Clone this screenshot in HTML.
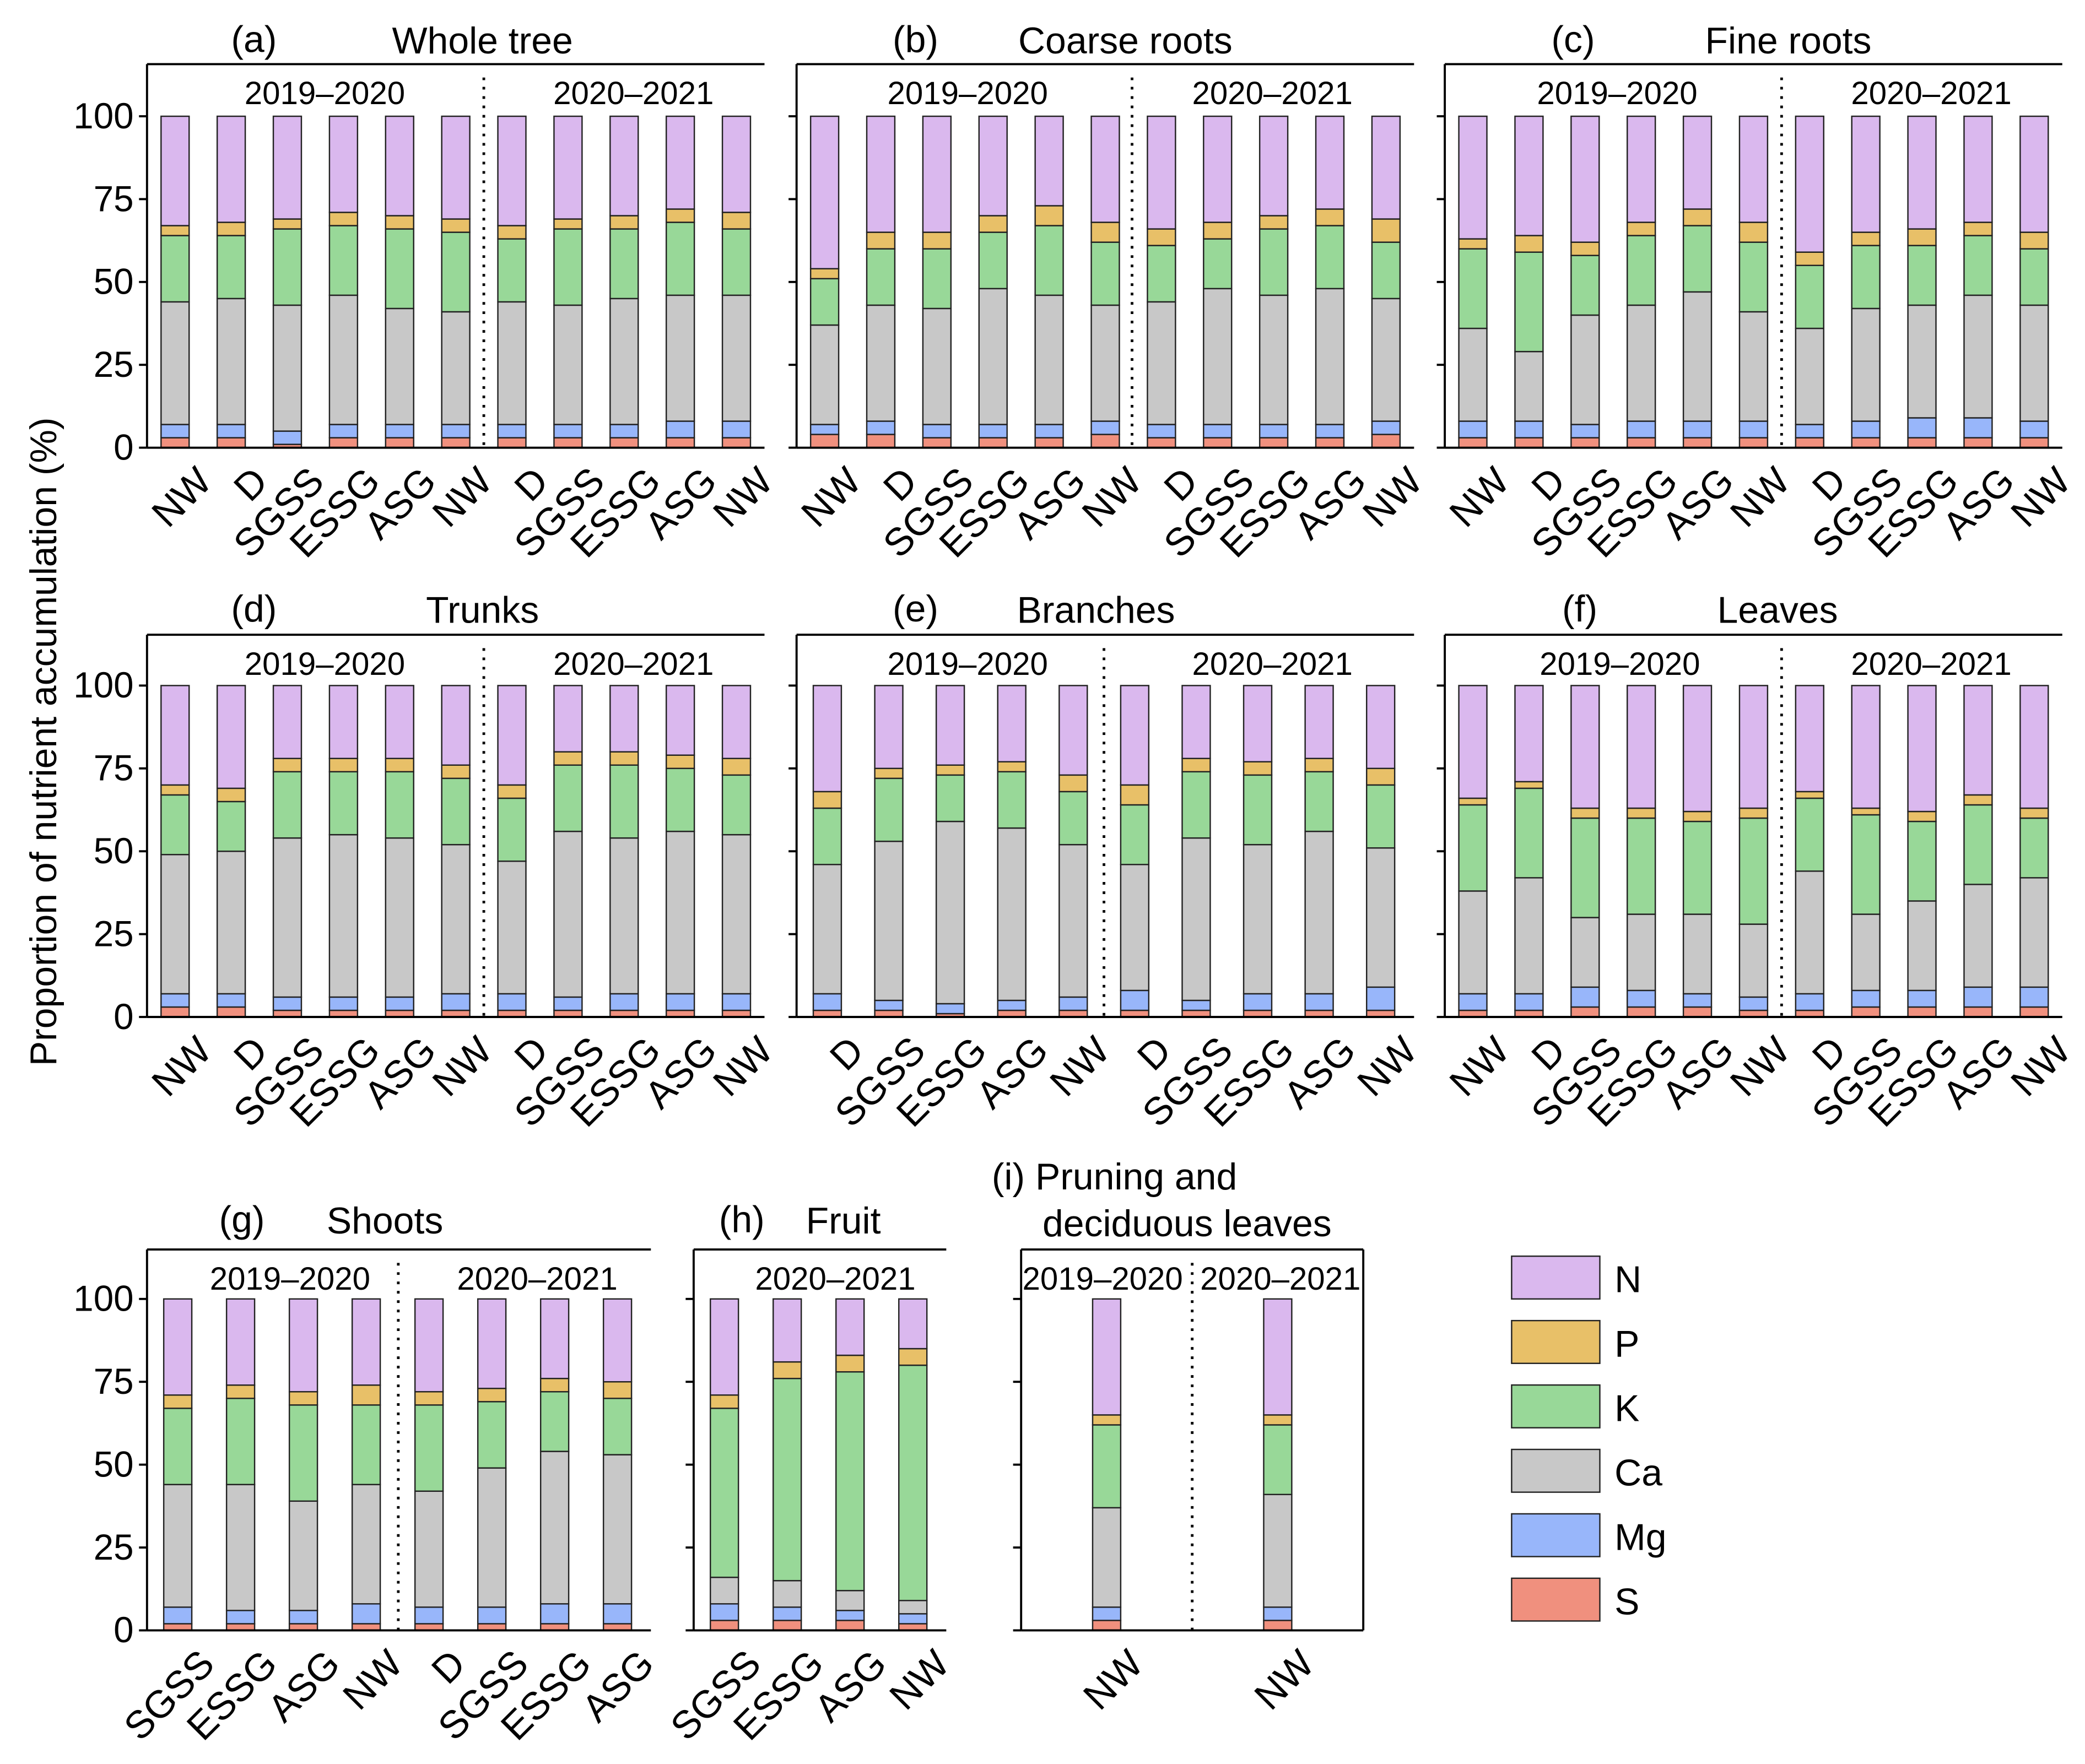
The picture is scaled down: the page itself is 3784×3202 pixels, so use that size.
<!DOCTYPE html>
<html><head><meta charset="utf-8"><style>
html,body{margin:0;padding:0;background:#fff;}
svg{display:block;font-family:"Liberation Sans",Arial,sans-serif;}
</style></head><body>
<svg id="chart" xmlns="http://www.w3.org/2000/svg" width="3784" height="3202" viewBox="0 0 1560 1320" preserveAspectRatio="none">
<rect x="0" y="0" width="1560" height="1320" fill="#fff"/>
<text transform="translate(42,555) rotate(-90)" text-anchor="middle" font-size="28">Proportion of nutrient accumulation (%)</text>
<g id="legend"></g>
</svg>
<script>
// ---- data (component shares, %; N = remainder to 100) ----
const catsA = ["NW","D","SGSS","ESSG","ASG","NW","D","SGSS","ESSG","ASG","NW"];
const sA  = [3,3,1,3,3,3,3,3,3,3,3];
const mgA = [4,4,4,4,4,4,4,4,4,5,5];
const caA = [37,38,38,39,35,34,37,36,38,38,38];
const kA  = [20,19,23,21,24,24,19,23,21,22,20];
const pA  = [3,4,3,4,4,4,4,3,4,4,5];

const catsB = ["NW","D","SGSS","ESSG","ASG","NW","D","SGSS","ESSG","ASG","NW"];
const sB  = [4,4,3,3,3,4,3,3,3,3,4];
const mgB = [3,4,4,4,4,4,4,4,4,4,4];
const caB = [30,35,35,41,39,35,37,41,39,41,37];
const kB  = [14,17,18,17,21,19,17,15,20,19,17];
const pB  = [3,5,5,5,6,6,5,5,4,5,7];

const catsC = ["NW","D","SGSS","ESSG","ASG","NW","D","SGSS","ESSG","ASG","NW"];
const sC  = [3,3,3,3,3,3,3,3,3,3,3];
const mgC = [5,5,4,5,5,5,4,5,6,6,5];
const caC = [28,21,33,35,39,33,29,34,34,37,35];
const kC  = [24,30,18,21,20,21,19,19,18,18,17];
const pC  = [3,5,4,4,5,6,4,4,5,4,5];

const catsD = ["NW","D","SGSS","ESSG","ASG","NW","D","SGSS","ESSG","ASG","NW"];
const sD  = [3,3,2,2,2,2,2,2,2,2,2];
const mgD = [4,4,4,4,4,5,5,4,5,5,5];
const caD = [42,43,48,49,48,45,40,50,47,49,48];
const kD  = [18,15,20,19,20,20,19,20,22,19,18];
const pD  = [3,4,4,4,4,4,4,4,4,4,5];

const catsE = ["D","SGSS","ESSG","ASG","NW","D","SGSS","ESSG","ASG","NW"];
const sE  = [2,2,1,2,2,2,2,2,2,2];
const mgE = [5,3,3,3,4,6,3,5,5,7];
const caE = [39,48,55,52,46,38,49,45,49,42];
const kE  = [17,19,14,17,16,18,20,21,18,19];
const pE  = [5,3,3,3,5,6,4,4,4,5];

const catsF = ["NW","D","SGSS","ESSG","ASG","NW","D","SGSS","ESSG","ASG","NW"];
const sF  = [2,2,3,3,3,2,2,3,3,3,3];
const mgF = [5,5,6,5,4,4,5,5,5,6,6];
const caF = [31,35,21,23,24,22,37,23,27,31,33];
const kF  = [26,27,30,29,28,32,22,30,24,24,18];
const pF  = [2,2,3,3,3,3,2,2,3,3,3];

const catsG = ["SGSS","ESSG","ASG","NW","D","SGSS","ESSG","ASG"];
const sG  = [2,2,2,2,2,2,2,2];
const mgG = [5,4,4,6,5,5,6,6];
const caG = [37,38,33,36,35,42,46,45];
const kG  = [23,26,29,24,26,20,18,17];
const pG  = [4,4,4,6,4,4,4,5];

const catsH = ["SGSS","ESSG","ASG","NW"];
const sH  = [3,3,3,2];
const mgH = [5,4,3,3];
const caH = [8,8,6,4];
const kH  = [51,61,66,71];
const pH  = [4,5,5,5];

const catsI = ["NW","NW"];
const sI  = [3,3];
const mgI = [4,4];
const caI = [30,34];
const kI  = [25,21];
const pI  = [3,3];

const yTicks = [0,25,50,75,100];
const legendLabels = ["N","P","K","Ca","Mg","S"];

// ---- drawing ----
const svg = document.getElementById('chart');
const NS = "http://www.w3.org/2000/svg";
const COLORS = {S:"#f0907e",Mg:"#98b6fa",Ca:"#c8c8c8",K:"#98d898",P:"#e8c068",N:"#dab8ee"};
function el(tag, attrs, parent){
  const e = document.createElementNS(NS, tag);
  for (const k in attrs) e.setAttribute(k, attrs[k]);
  (parent||svg).appendChild(e);
  return e;
}
function txt(str, attrs, parent){ const t = el('text', attrs, parent); t.textContent = str; return t; }

const panels = [
 {id:"a",title:"Whole tree",label:"(a)",lx:190,tx:361,ty:30,x0:110,x1:572,top:48,zero:335,hundred:87,c0:131,step:42,div:362,periods:[["2019–2020",243],["2020–2021",474]],cats:catsA,S:sA,Mg:mgA,Ca:caA,K:kA,P:pA,yl:true},
 {id:"b",title:"Coarse roots",label:"(b)",lx:685,tx:842,ty:30,x0:596,x1:1058,top:48,zero:335,hundred:87,c0:617,step:42,div:847,periods:[["2019–2020",724],["2020–2021",952]],cats:catsB,S:sB,Mg:mgB,Ca:caB,K:kB,P:pB},
 {id:"c",title:"Fine roots",label:"(c)",lx:1177,tx:1338,ty:30,x0:1081,x1:1543,top:48,zero:335,hundred:87,c0:1102,step:42,div:1333,periods:[["2019–2020",1210],["2020–2021",1445]],cats:catsC,S:sC,Mg:mgC,Ca:caC,K:kC,P:pC},
 {id:"d",title:"Trunks",label:"(d)",lx:190,tx:361,ty:456,x0:110,x1:572,top:475,zero:761,hundred:513,c0:131,step:42,div:362,periods:[["2019–2020",243],["2020–2021",474]],cats:catsD,S:sD,Mg:mgD,Ca:caD,K:kD,P:pD,yl:true},
 {id:"e",title:"Branches",label:"(e)",lx:685,tx:820,ty:456,x0:596,x1:1058,top:475,zero:761,hundred:513,c0:619,step:46,div:826,periods:[["2019–2020",724],["2020–2021",952]],cats:catsE,S:sE,Mg:mgE,Ca:caE,K:kE,P:pE},
 {id:"f",title:"Leaves",label:"(f)",lx:1182,tx:1330,ty:456,x0:1081,x1:1543,top:475,zero:761,hundred:513,c0:1102,step:42,div:1333,periods:[["2019–2020",1212],["2020–2021",1445]],cats:catsF,S:sF,Mg:mgF,Ca:caF,K:kF,P:pF},
 {id:"g",title:"Shoots",label:"(g)",lx:181,tx:288,ty:913,x0:110,x1:487,top:935,zero:1220,hundred:972,c0:133,step:47,div:298,periods:[["2019–2020",217],["2020–2021",402]],cats:catsG,S:sG,Mg:mgG,Ca:caG,K:kG,P:pG,yl:true},
 {id:"h",title:"Fruit",label:"(h)",lx:555,tx:631,ty:913,x0:519,x1:708,top:935,zero:1220,hundred:972,c0:542,step:47,div:null,periods:[["2020–2021",625]],cats:catsH,S:sH,Mg:mgH,Ca:caH,K:kH,P:pH},
 {id:"i",title:"",label:"",x0:764,x1:1020,top:935,zero:1220,hundred:972,c0:828,step:128,div:892,periods:[["2019–2020",825],["2020–2021",958]],cats:catsI,S:sI,Mg:mgI,Ca:caI,K:kI,P:pI,box:true}
];

const order = ["S","Mg","Ca","K","P"];
panels.forEach(p=>{
  const g = el('g',{});
  
  
  const y = v => p.zero - (p.zero - p.hundred) * v/100;
  const x = i => p.c0 + i*p.step;
  const bw = 21;
  p.cats.forEach((c,i)=>{
    let acc = 0;
    order.forEach(k=>{
      const v = p[k][i];
      const r = el('rect',{x:x(i)-bw/2,y:y(acc+v),width:bw,height:y(acc)-y(acc+v),fill:COLORS[k],stroke:"#222","stroke-width":1},g);
      
      
      acc += v;
    });
    const rn = el('rect',{x:x(i)-bw/2,y:y(100),width:bw,height:y(acc)-y(100),fill:COLORS.N,stroke:"#222","stroke-width":1},g);
    
    
    const t = txt(c,{transform:`translate(${x(i)+14},${p.zero+12}) rotate(-45)`,"text-anchor":"end","dominant-baseline":"hanging","font-size":29},g);
    
    
  });
  el('line',{x1:p.x0,y1:p.top,x2:p.x1,y2:p.top,stroke:"#000","stroke-width":1.6},g);
  el('line',{x1:p.x0,y1:p.top,x2:p.x0,y2:p.zero,stroke:"#000","stroke-width":1.6},g);
  el('line',{x1:p.x0,y1:p.zero,x2:p.x1,y2:p.zero,stroke:"#000","stroke-width":1.6},g);
  if (p.box) el('line',{x1:p.x1,y1:p.top,x2:p.x1,y2:p.zero,stroke:"#000","stroke-width":1.6},g);
  yTicks.forEach(v=>{
    el('line',{x1:p.x0-6,y1:y(v),x2:p.x0,y2:y(v),stroke:"#000","stroke-width":1.6},g);
    if (p.yl){
      const t = txt(String(v),{x:p.x0-10,y:y(v)+9,"text-anchor":"end","font-size":27},g);
      
      
    }
  });
  if (p.div) el('line',{x1:p.div,y1:p.top+10,x2:p.div,y2:p.zero,stroke:"#000","stroke-width":2,"stroke-dasharray":"2,5"},g);
  p.periods.forEach(pr=>{
    const t = txt(pr[0],{x:pr[1],y:p.top+30,"text-anchor":"middle","font-size":24},g);
    
    
  });
  if (p.label){
    const t1 = txt(p.label,{x:p.lx,y:p.ty+9,"text-anchor":"middle","font-size":28},g);
    
    
    const t2 = txt(p.title,{x:p.tx,y:p.ty+10,"text-anchor":"middle","font-size":28},g);
    
    
  }
});
const ti1 = txt("(i) Pruning and",{x:742,y:890,"font-size":28});


const ti2 = txt("deciduous leaves",{x:780,y:925,"font-size":28});



const lg = document.getElementById('legend');
const legKeys = ["N","P","K","Ca","Mg","S"];
legendLabels.forEach((lab,i)=>{
  const yy = 940 + i*48.2;
  const r = el('rect',{x:1131,y:yy,width:66,height:32,fill:COLORS[legKeys[i]],stroke:"#222","stroke-width":1},lg);
  
  
  const t = txt(lab,{x:1208,y:yy+27,"font-size":28},lg);
  
  
});
</script>
</body></html>
